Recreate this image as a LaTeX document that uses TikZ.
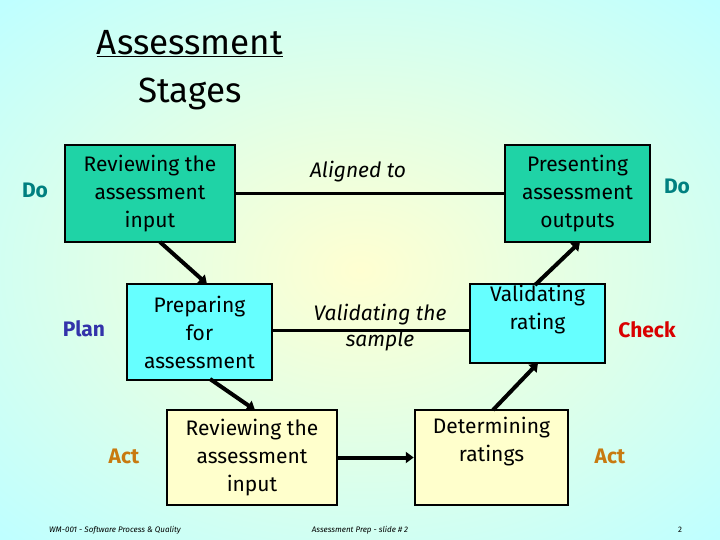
\documentclass[tikz,border=0pt]{standalone}
\usepackage{fontspec}
\setmainfont{Fira Sans}
\usetikzlibrary{arrows.meta}
\definecolor{teal1}{HTML}{1FD3A6}
\definecolor{cyan1}{HTML}{66FFFF}
\definecolor{yel1}{HTML}{FFFFCC}
\definecolor{dotc}{HTML}{008080}
\definecolor{planc}{HTML}{3333AA}
\definecolor{actc}{HTML}{C87A10}
\tikzset{
  box/.style={draw=black, line width=2.5pt, align=center, inner sep=0pt, font=\fontsize{21}{28}\selectfont},
  conn/.style={line width=3pt},
  arr/.style={line width=4pt, -{Triangle[length=8pt,width=11pt]}},
  lab/.style={font=\fontsize{21}{22}\selectfont\bfseries},
  mid/.style={font=\fontsize{21}{26}\selectfont\itshape, align=center},
  foot/.style={font=\fontsize{8}{10}\selectfont\itshape}
}
\begin{document}
\begin{tikzpicture}[x=1pt,y=-1pt]
\useasboundingbox (0,0) rectangle (720,540);
\shade[inner color=yel1!90!white, outer color=cyan!25!white] (-150,-100) rectangle (870,640);
\node[font=\fontsize{35}{48}\selectfont, align=center] (title) at (190,70) {\underline{Assessment}\\Stages};
\node[box, fill=teal1, minimum width=170pt, minimum height=97pt] (b1) at (150,193.5) {Reviewing the\\assessment\\input};
\node[box, fill=teal1, minimum width=145pt, minimum height=97pt] (b2) at (577.5,193.5) {Presenting\\assessment\\outputs};
\node[box, fill=cyan1, minimum width=145pt, minimum height=96pt] (b3) at (199.5,332) {Preparing\\for\\assessment};
\node[box, fill=cyan1, minimum width=135pt, minimum height=79pt] (b4) at (537.5,323.5) {Validating\\rating\\[-4pt]\strut};
\node[box, fill=yel1, minimum width=170pt, minimum height=95pt] (b5) at (252,457.5) {Reviewing the\\assessment\\input};
\node[box, fill=yel1, minimum width=153pt, minimum height=95pt] (b6) at (491.5,457.5) {Determining\\ratings\\ \strut};
\draw[conn] (b1.east) -- (b2.west);
\draw[conn] (b3.east |- 0,330) -- (b4.west |- 0,330);
\draw[arr] (160,242) -- (207,284);
\draw[arr] (210,379) -- (255,410);
\draw[arr] (b5.east) -- (b6.west);
\draw[arr] (493,410) -- (538,363);
\draw[arr] (535,285) -- (580,242);
\node[mid] (al) at (358,172) {Aligned to};
\node[mid, align=center] (vs) at (380,328) {Validating the\\sample};
\node[lab, text=dotc] (do1) at (35,190) {Do};
\node[lab, text=dotc] (do2) at (677,186) {Do};
\node[lab, text=planc] (plan) at (84,329) {Plan};
\node[lab, text=red!85!black] (chk) at (647,330) {Check};
\node[lab, text=actc] (act1) at (124,456) {Act};
\node[lab, text=actc] (act2) at (610,456) {Act};
\node[foot] (f1) at (115,530) {WM-001 - Software Process \& Quality};
\node[foot] (f2) at (360,530) {Assessment Prep - slide \# 2};
\node[foot, font=\fontsize{8}{10}\selectfont] (f3) at (680,530) {2};
\end{tikzpicture}
\end{document}
